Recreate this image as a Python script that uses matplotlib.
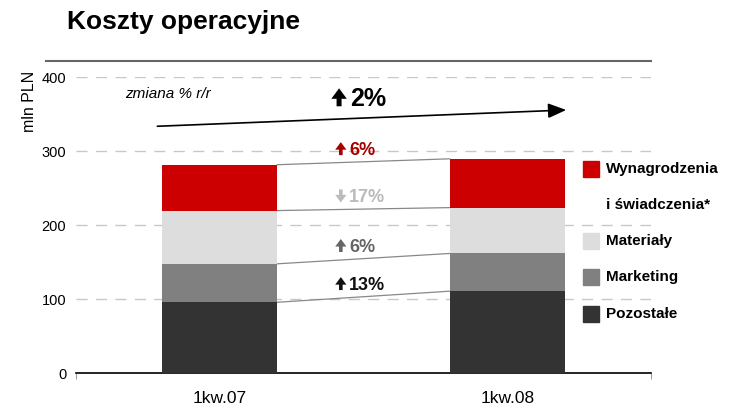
import numpy as np
import matplotlib.pyplot as plt
from matplotlib.patches import Rectangle
from matplotlib.lines import Line2D
from matplotlib.transforms import offset_copy

plt.rcParams['font.family'] = ['Liberation Sans', 'DejaVu Sans']

# dane (mln PLN)
okresy = ['1kw.07', '1kw.08']
pozostale = [96, 111]
marketing = [52, 51]
materialy = [72, 62]
wynagrodzenia = [62, 66]

serie = [pozostale, marketing, materialy, wynagrodzenia]
nazwy = ['Pozostałe', 'Marketing', 'Materiały', 'Wynagrodzenia\n\ni świadczenia*']
kolory = ['#333333', '#808080', '#DDDDDD', '#CC0000']

zmiany = ['13%', '6%', '17%', '6%']
w_gore = [True, True, False, True]
kolory_zmian = ['#111111', '#666666', '#BBBBBB', '#A80000']
zmiana_total = '2%'

fig = plt.figure(figsize=(7.42, 4.12), dpi=100)
ax = fig.add_axes([0.1024, 0.094, 0.775, 0.718])


def etykieta(xc, y, gora, tekst, kolor, s):
    # gruba strzalka (wypelniony ksztalt 'simple') + liczba
    dx = -0.46 * s
    t_dol = offset_copy(ax.transData, fig=fig, x=dx, y=0, units='points')
    t_gora = offset_copy(ax.transData, fig=fig, x=dx, y=0.72 * s, units='points')
    start, koniec = (t_dol, t_gora) if gora else (t_gora, t_dol)
    ax.annotate('', xy=(xc, y), xycoords=koniec, xytext=(xc, y), textcoords=start,
                arrowprops=dict(arrowstyle='simple,head_length=0.42,head_width=0.62,tail_width=0.2',
                                fc=kolor, ec='none', lw=0, shrinkA=0, shrinkB=0,
                                mutation_scale=s), zorder=4)
    ax.text(xc, y, tekst, fontweight='bold', fontsize=s, color=kolor,
            ha='left', va='baseline', zorder=4)


x = np.arange(len(okresy))
szer = 0.4
dol = np.zeros(len(okresy))
gory = []
for vals, kol in zip(serie, kolory):
    ax.bar(x, vals, szer, bottom=dol, color=kol, zorder=3)
    dol = dol + np.array(vals)
    gory.append(dol.copy())

# linie laczace segmenty + zmiany r/r
for g, zm, wg, kz in zip(gory, zmiany, w_gore, kolory_zmian):
    ax.plot([x[0] + szer / 2, x[1] - szer / 2], [g[0], g[1]], color='#888888', lw=0.9, zorder=2)
    ym = (g[0] + g[1]) / 2
    etykieta(0.45, ym + 9, wg, zm, kz, 13)

# strzalka zmiany calkowitej
ax.annotate('', xy=(1.205, 356), xytext=(-0.217, 334),
            arrowprops=dict(arrowstyle='-|>,head_length=1.1,head_width=0.45',
                            color='black', lw=1.2, shrinkA=0, shrinkB=0))
etykieta(0.455, 361, True, zmiana_total, 'black', 18)
ax.text(-0.33, 378, 'zmiana % r/r', fontsize=11, style='italic', ha='left', va='center')

ax.set_xlim(-0.5, 1.5)
ax.set_ylim(0, 400)
ax.set_yticks([0, 100, 200, 300, 400])
ax.set_xticks(x)
ax.set_xticklabels(okresy, fontsize=12.5)
ax.set_xticks([-0.5, 1.5], minor=True)
ax.tick_params(axis='x', which='major', length=0, pad=13)
ax.tick_params(axis='x', which='minor', length=4, color='#888888')
ax.tick_params(axis='y', length=0, labelsize=10.5, pad=7)
ax.yaxis.grid(True, color='#C8C8C8', lw=1, dashes=(8, 6))
ax.set_axisbelow(True)
for s in ['left', 'right', 'top']:
    ax.spines[s].set_visible(False)
ax.spines['bottom'].set_color('black')
ax.spines['bottom'].set_linewidth(1.2)

# legenda
leg_y = [314, 277, 241, 169]
for nazwa, kol, yy in zip(nazwy, kolory, leg_y):
    yf = 1 - yy / 412
    fig.add_artist(Rectangle((583 / 742, yf - 8 / 412), 16 / 742, 16 / 412,
                             transform=fig.transFigure, color=kol))
    top = nazwa.split('\n')[0]
    fig.text(606 / 742, yf, top, fontsize=11, fontweight='bold', va='center')
    if '\n' in nazwa:
        fig.text(606 / 742, 1 - 205 / 412, nazwa.split('\n')[-1], fontsize=11,
                 fontweight='bold', va='center')

# tytul i gorna linia
fig.text(67 / 742, 1 - 22 / 412, 'Koszty operacyjne', fontsize=19, fontweight='bold', va='center')
fig.add_artist(Line2D([46 / 742, 651 / 742], [1 - 61 / 412, 1 - 61 / 412], color='#666666', lw=1.5))
fig.text(30 / 742, 1 - 101 / 412, 'mln PLN', fontsize=11.5, rotation=90, ha='center', va='center')

fig.savefig('out.png', dpi=100)
